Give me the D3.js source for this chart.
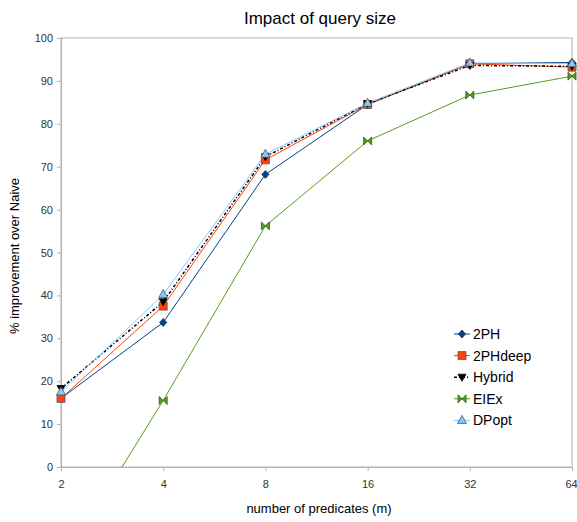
<!DOCTYPE html>
<html lang="en">
<head>
    <meta charset="UTF-8">
    <title>Impact of query size</title>
    <script src="https://d3js.org/d3.v7.min.js"></script>
    <style>
        body { margin: 0; background: #fff; }
        text { font-family: "Liberation Sans", Arial, sans-serif; }
        .tick text { fill: #333; font-size: 11px; }
        .tick line, .domain { stroke: #b3b3b3; }
    </style>
</head>
<body>
    <svg width="577" height="522"></svg>
    <script>
        // Chart data
        const predicates = [2, 4, 8, 16, 32, 64];
        const yTicks = [0, 10, 20, 30, 40, 50, 60, 70, 80, 90, 100];
        const seriesNames = ["2PH", "2PHdeep", "Hybrid", "EIEx", "DPopt"];
        const values2PH = [16.0, 33.7, 68.2, 84.5, 94.0, 94.3];
        const values2PHdeep = [16.0, 37.5, 71.6, 84.5, 94.0, 93.2];
        const valuesHybrid = [18.3, 38.5, 72.3, 84.7, 93.6, 93.4];
        const valuesEIEx = [-23.0, 15.5, 56.2, 76.0, 86.7, 91.1];
        const valuesDPopt = [17.5, 40.2, 72.9, 84.8, 94.2, 94.0];

        const margin = { top: 38, right: 5, bottom: 55, left: 61 };
        const width = 572 - margin.left;
        const height = 467 - margin.top;

        const svg = d3.select('svg');
        const g = svg.append('g')
            .attr('transform', `translate(${margin.left},${margin.top})`);

        const x = d3.scaleLog().base(2).domain([2, 64]).range([0, width]);
        const y = d3.scaleLinear().domain([0, 100]).range([height, 0]);

        // Frame
        g.append('rect')
            .attr('width', width).attr('height', height)
            .attr('fill', 'none').attr('stroke', '#b3b3b3');

        // Axes
        const xAxis = g.append('g')
            .attr('transform', `translate(0,${height})`)
            .call(d3.axisBottom(x).tickValues(predicates).tickFormat(d3.format('d')).tickSizeOuter(0).tickSize(4).tickPadding(9));
        // keep the last label inside the window
        xAxis.selectAll('.tick:last-of-type text').attr('dx', '-1px');

        const yAxis = g.append('g')
            .call(d3.axisLeft(y).tickValues(yTicks).tickSizeOuter(0).tickSize(4).tickPadding(4));

        // Titles
        svg.append('text')
            .attr('x', 320).attr('y', 24)
            .attr('text-anchor', 'middle')
            .style('font-size', '17px')
            .text('Impact of query size');

        svg.append('text')
            .attr('x', 319).attr('y', 513)
            .attr('text-anchor', 'middle')
            .style('font-size', '13px')
            .text('number of predicates (m)');

        svg.append('text')
            .attr('transform', 'translate(19,256) rotate(-90)')
            .attr('text-anchor', 'middle')
            .style('font-size', '13px')
            .text('% improvement over Naive');

        // Markers
        const bowtie = 'M-4,-4L0,0L-4,4ZM4,-4L0,0L4,4Z';
        const series = [
            { name: seriesNames[0], values: values2PH, line: '#004586', fill: '#004586', stroke: '#1b3a5c', dash: null, width: 1,
              path: 'M0,-4L3.6,0L0,4L-3.6,0Z' },
            { name: seriesNames[1], values: values2PHdeep, line: '#ff420e', fill: '#ff420e', stroke: '#555', dash: null, width: 1,
              path: 'M-4,-4H4V4H-4Z' },
            { name: seriesNames[2], values: valuesHybrid, line: '#000', fill: '#000', stroke: '#000', dash: '3,2,1,2', width: 1.5,
              path: 'M-4,-3L4,-3L0,4Z' },
            { name: seriesNames[3], values: valuesEIEx, line: '#579d1c', fill: '#579d1c', stroke: '#2e5a10', dash: null, width: 1,
              path: bowtie },
            { name: seriesNames[4], values: valuesDPopt, line: '#83caff', fill: '#83caff', stroke: '#555', dash: null, width: 1,
              path: 'M0,-5L4.5,3L-4.5,3Z' }
        ];

        svg.append('defs').append('clipPath').attr('id', 'plot-clip')
            .append('rect').attr('x', -6).attr('y', -6).attr('width', width + 12).attr('height', height + 6);

        const plot = g.append('g').attr('clip-path', 'url(#plot-clip)');

        const line = d3.line()
            .x((d, i) => x(predicates[i]))
            .y(d => y(d));

        series.forEach(s => {
            plot.append('path')
                .datum(s.values)
                .attr('fill', 'none')
                .attr('stroke', s.line)
                .attr('stroke-width', s.width)
                .attr('stroke-dasharray', s.dash)
                .attr('d', line);
        });

        series.forEach(s => {
            plot.selectAll(null)
                .data(s.values.map((v, i) => ({ v, i })).filter(d => d.v >= 0))
                .enter()
                .append('path')
                .attr('transform', d => `translate(${x(predicates[d.i])},${y(d.v)})`)
                .attr('d', s.path)
                .attr('fill', s.fill)
                .attr('stroke', s.stroke)
                .attr('stroke-width', 0.8);
        });

        // Legend
        const legend = svg.append('g').attr('transform', 'translate(462,334)');
        series.forEach((s, i) => {
            const row = legend.append('g').attr('transform', `translate(0,${i * 21.6})`);
            row.append('line')
                .attr('x1', -8).attr('x2', 8)
                .attr('stroke', s.line)
                .attr('stroke-width', s.width)
                .attr('stroke-dasharray', s.dash);
            row.append('path')
                .attr('d', s.path)
                .attr('fill', s.fill)
                .attr('stroke', s.stroke)
                .attr('stroke-width', 0.8);
            row.append('text')
                .attr('x', 11).attr('y', 5)
                .style('font-size', '14px')
                .text(s.name);
        });
    </script>
</body>
</html>
